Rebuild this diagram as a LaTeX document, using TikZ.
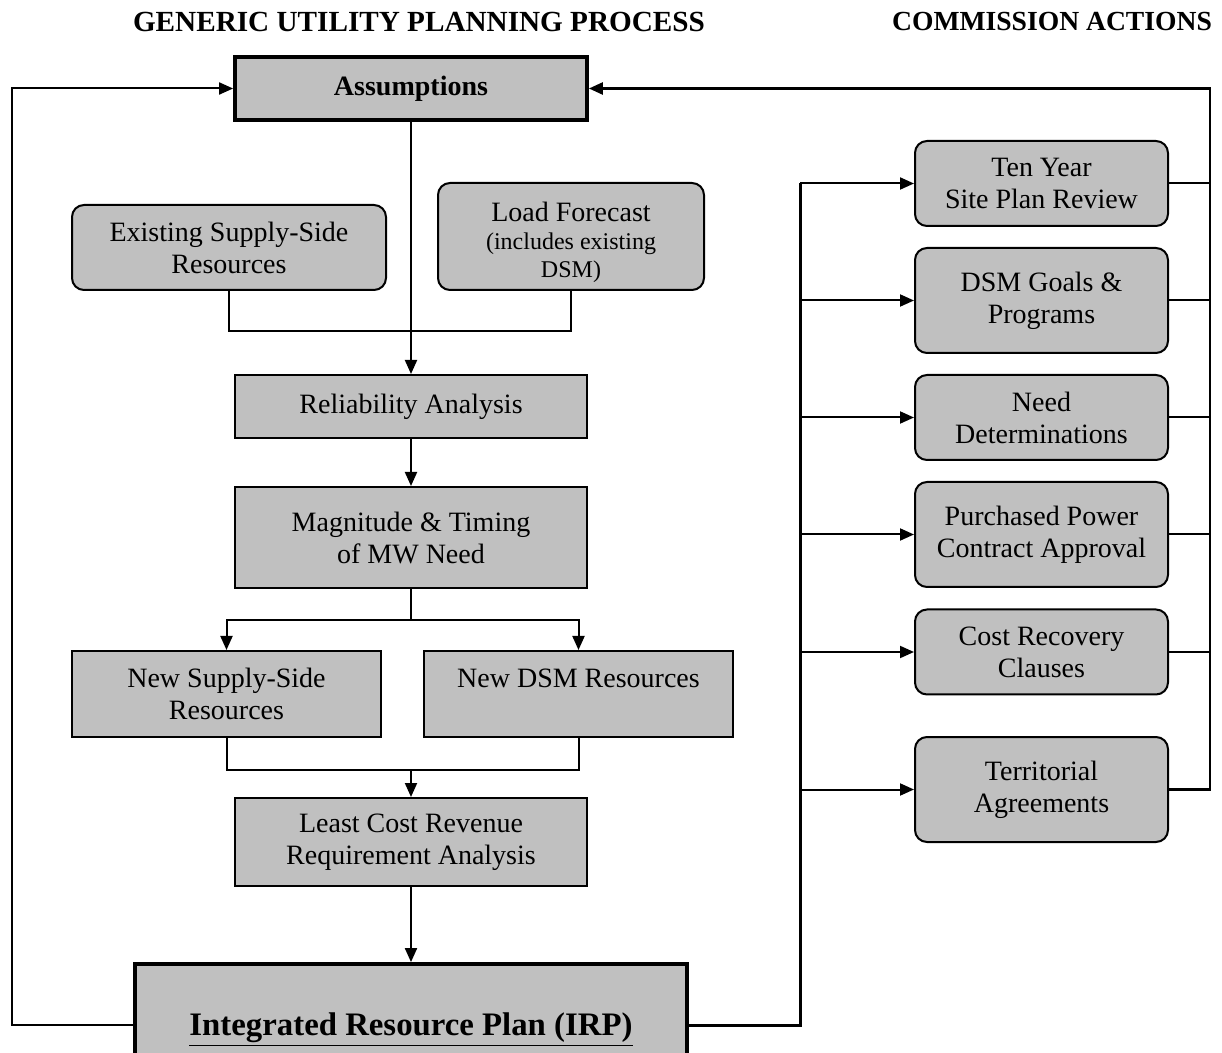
\documentclass[tikz,border=0pt]{standalone}
\usepackage{fontspec}
\setmainfont{Liberation Serif}
\usepackage{tikz}
\usetikzlibrary{arrows.meta}
\definecolor{boxgray}{RGB}{192,192,192}

\begin{document}
\begin{tikzpicture}[x=0.5pt,y=-0.5pt,line width=1pt,
    every node/.style={font=\fontsize{14}{16}\selectfont},
    box/.style={draw, fill=boxgray, line width=1pt, inner sep=0pt, align=center, minimum width=176pt},
    rbox/.style={box, rounded corners=6pt},
    mainbox/.style={box, line width=1.9pt, font=\fontsize{14}{16}\selectfont\bfseries},
    actbox/.style={rbox, minimum width=126.5pt},
    heading/.style={font=\fontsize{13.8}{16}\selectfont\bfseries},
    arr/.style={-{Triangle[length=7pt,width=6pt]}}]
    \useasboundingbox (0,0) rectangle (1222,1053);
    % headings
    \node[heading, font=\fontsize{14.6}{16}\selectfont\bfseries] (h1) at (419,22) {GENERIC UTILITY PLANNING PROCESS};
    \node[heading] (h2) at (1052,22) {COMMISSION ACTIONS};
    % planning process
    \node[mainbox, minimum height=31.5pt] (assump) at (411,88.5) {Assumptions};
    \node[rbox, minimum width=157pt, minimum height=42.5pt] (ess) at (229,247.5) {Existing Supply-Side\\Resources};
    \node[rbox, minimum width=133pt, minimum height=53.5pt] (lf) at (571,236.5)
      {\rule{0pt}{16pt}Load Forecast\\[-2pt]{\fontsize{12}{13}\selectfont (includes existing}\\[-2pt]{\fontsize{12}{13}\selectfont DSM)}};
    \node[box, minimum height=31.5pt] (rel) at (411,406.5) {Reliability Analysis};
    \node[box, minimum height=50.5pt] (mag) at (411,537.5) {Magnitude \& Timing\\of MW Need};
    \node[box, minimum width=154.5pt, minimum height=43pt] (nss) at (226.5,694) {New Supply-Side\\Resources};
    \node[box, minimum width=154.5pt, minimum height=43pt] (ndsm) at (578.5,694) {New DSM Resources\\~};
    \node[box, minimum height=44pt] (lcr) at (411,842) {Least Cost Revenue\\Requirement Analysis};
    \node[mainbox, minimum width=276pt, minimum height=66pt, font=\fontsize{16.4}{18}\selectfont\bfseries] (irp) at (411,1030)
      {\underline{Integrated Resource Plan (IRP)}};
    % commission actions
    \node[actbox, minimum height=42.5pt] (tysp) at (1041.5,183.5) {Ten Year\\Site Plan Review};
    \node[actbox, minimum height=52.5pt] (dsmg) at (1041.5,300.5) {DSM Goals \&\\Programs};
    \node[actbox, minimum height=42.5pt] (need) at (1041.5,417.5) {Need\\Determinations};
    \node[actbox, minimum height=52.5pt] (ppca) at (1041.5,534.5) {Purchased Power\\Contract Approval};
    \node[actbox, minimum height=42.5pt] (crc) at (1041.5,652) {Cost Recovery\\Clauses};
    \node[actbox, minimum height=52.5pt] (terr) at (1041.5,789.5) {Territorial\\Agreements};
    % junctions and buses
    \coordinate (j1) at (411,331);
    \coordinate (j2) at (411,620);
    \coordinate (j3) at (411,770);
    \coordinate (lft) at (12,0);
    \coordinate (bus) at (800,0);
    \coordinate (rbus) at (1210,0);
    % planning flow
    \draw[arr] (assump) -- (rel);
    \draw (ess.south) |- (j1) -| (lf.south);
    \draw[arr] (rel) -- (mag);
    \draw (mag) -- (j2);
    \draw[arr] (j2) -| (nss.north);
    \draw[arr] (j2) -| (ndsm.north);
    \draw (nss.south) |- (j3) -| (ndsm.south);
    \draw[arr] (j3) -- (lcr);
    \draw[arr] (lcr) -- (irp);
    % feedback loops
    \draw[arr] (irp.west |- 0,1025) -- (lft |- 0,1025) |- (assump.west);
    \draw[line width=1.5pt] (irp.east |- 0,1025) -| (bus |- tysp.west);
    \foreach \c in {tysp,dsmg,need,ppca,crc,terr}
      \draw[arr] (bus |- \c.west) -- (\c.west);
    \foreach \c in {tysp,dsmg,need,ppca,crc}
      \draw (\c.east) -- (rbus |- \c.east);
    \draw[arr, line width=1.3pt] (terr.east) -| (rbus |- assump.east) -- (assump.east);
\end{tikzpicture}
\end{document}
